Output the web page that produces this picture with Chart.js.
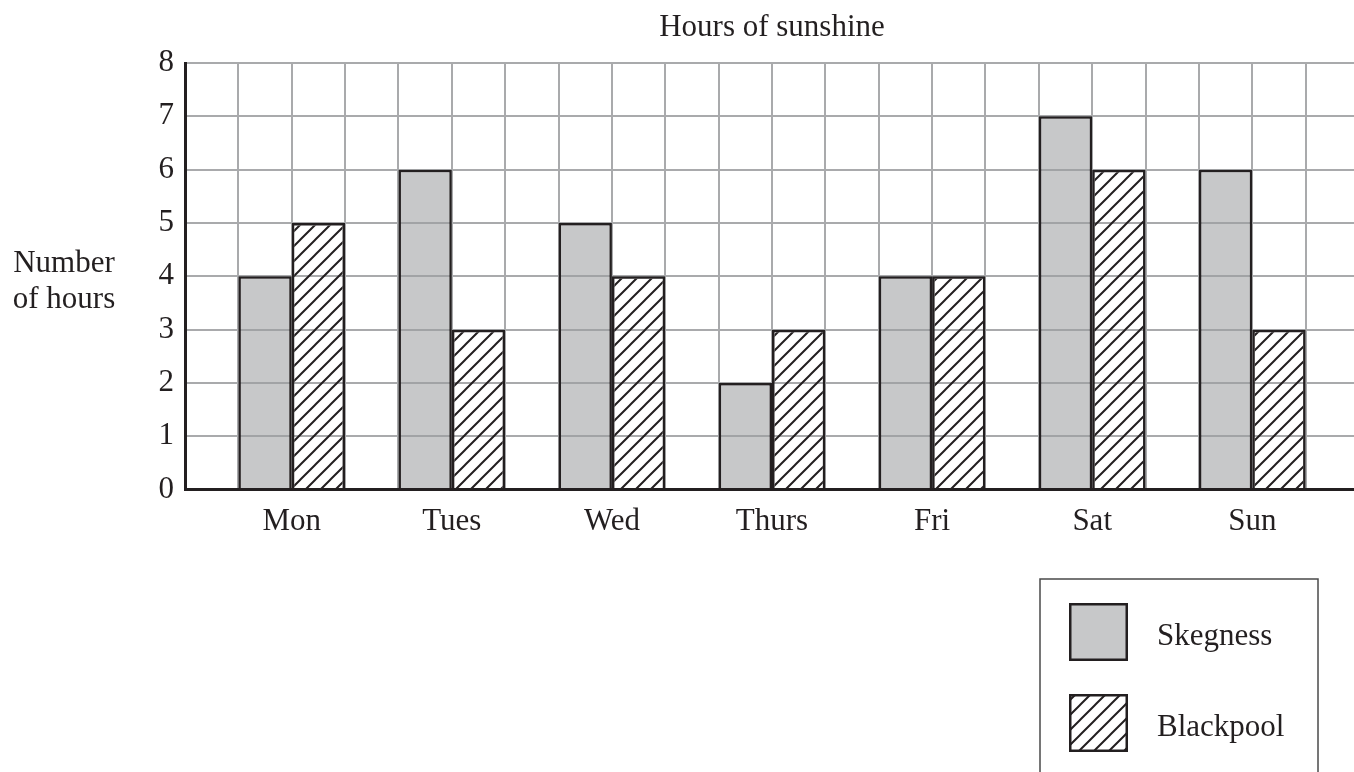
<!DOCTYPE html>
<html><head><meta charset="utf-8">
<script src="https://cdn.jsdelivr.net/npm/chart.js@4"></script>
<style>html,body{margin:0;padding:0;background:#fff;overflow:hidden;}canvas{display:block;}</style>
</head><body>
<canvas id="c" width="1359" height="772"></canvas>
<script>
const days = ['Mon', 'Tues', 'Wed', 'Thurs', 'Fri', 'Sat', 'Sun'];
const skegness = [4, 6, 5, 2, 4, 7, 6];
const blackpool = [5, 3, 4, 3, 4, 6, 3];
const yTicks = [0, 1, 2, 3, 4, 5, 6, 7, 8];
const seriesNames = ['Skegness', 'Blackpool'];
const chartTitle = 'Hours of sunshine';
const yTitleLines = ['Number', 'of hours'];

const FONT_FAMILY = '"Liberation Serif", "Times New Roman", serif';
const FONT_SIZE = 31;
const INK = '#231f20';
const GRID = '#a9aaac';
const CELLS_PER_DAY = 3;

function makeHatch() {
  const s = 15;
  const c = document.createElement('canvas');
  c.width = s; c.height = s;
  const g = c.getContext('2d');
  g.strokeStyle = INK;
  g.lineWidth = 2;
  g.beginPath();
  g.moveTo(-2, 2); g.lineTo(2, -2);
  g.moveTo(0, s); g.lineTo(s, 0);
  g.moveTo(s - 2, s + 2); g.lineTo(s + 2, s - 2);
  g.stroke();
  return g.createPattern(c, 'repeat');
}
const hatch = makeHatch();
const skegFill = 'rgba(156,157,160,0.565)';

const extras = {
  id: 'extras',
  afterDraw(chart) {
    const ctx = chart.ctx;
    const ca = chart.chartArea;
    ctx.save();
    ctx.fillStyle = INK;
    ctx.font = FONT_SIZE + 'px ' + FONT_FAMILY;
    ctx.textBaseline = 'alphabetic';
    ctx.textAlign = 'center';
    ctx.fillText(chartTitle, (ca.left + ca.right) / 2, 36);
    const midY = (ca.top + ca.bottom) / 2;
    ctx.fillText(yTitleLines[0], 64, midY - 4);
    ctx.fillText(yTitleLines[1], 64, midY + 32);

    // legend box
    ctx.strokeStyle = '#4a4a4a';
    ctx.lineWidth = 1.5;
    ctx.strokeRect(1040, 579, 278, 260);
    const ds = chart.data.datasets;
    const rows = [603, 694];
    ds.forEach((d, i) => {
      const y = rows[i];
      ctx.fillStyle = '#ffffff';
      ctx.fillRect(1069, y, 59, 58);
      ctx.fillStyle = d.backgroundColor;
      ctx.fillRect(1069, y, 59, 58);
      ctx.strokeStyle = d.borderColor;
      ctx.lineWidth = 2.5;
      ctx.strokeRect(1069 + 1.25, y + 1.25, 59 - 2.5, 58 - 2.5);
      ctx.fillStyle = INK;
      ctx.textAlign = 'left';
      ctx.fillText(d.label, 1157, y + 29 + 13);
    });
    ctx.restore();
  }
};

const font = { family: FONT_FAMILY, size: FONT_SIZE };

new Chart(document.getElementById('c'), {
  type: 'bar',
  data: {
    datasets: [
      {
        label: seriesNames[0],
        xAxisID: 'x',
        yAxisID: 'y',
        data: days.map((d, i) => ({ x: i, y: skegness[i] })),
        backgroundColor: skegFill,
        borderColor: INK,
        borderWidth: 2.5,
        borderSkipped: 'start',
        categoryPercentage: 2 / 3,
        barPercentage: 1
      },
      {
        label: seriesNames[1],
        xAxisID: 'x',
        yAxisID: 'y',
        data: days.map((d, i) => ({ x: i, y: blackpool[i] })),
        backgroundColor: hatch,
        borderColor: INK,
        borderWidth: 2.5,
        borderSkipped: 'start',
        categoryPercentage: 2 / 3,
        barPercentage: 1
      }
    ]
  },
  options: {
    responsive: false,
    animation: false,
    events: [],
    layout: { padding: { top: 63, left: 0, right: 0, bottom: 232.4 } },
    plugins: { legend: { display: false }, tooltip: { enabled: false }, title: { display: false } },
    scales: {
      x: {
        type: 'linear',
        position: 'bottom',
        offset: false,
        min: -(CELLS_PER_DAY - 1) / CELLS_PER_DAY,
        max: days.length - 1 + (CELLS_PER_DAY - 1) / CELLS_PER_DAY,
        afterBuildTicks: s => { s.ticks = days.map((d, i) => ({ value: i })); },
        ticks: {
          autoSkip: false, maxRotation: 0, minRotation: 0, padding: 14,
          font: font, color: INK,
          callback: (v) => days[Math.round(v)] || ''
        },
        grid: { display: false, drawTicks: false, offset: false },
        border: { display: true, color: INK, width: 3, z: 2 },
        afterFit: s => { s.height = 50; }
      },
      x2: {
        type: 'linear',
        position: 'bottom',
        offset: false,
        min: 0,
        max: days.length * CELLS_PER_DAY + 1,
        afterBuildTicks: s => {
          const n = days.length * CELLS_PER_DAY + 1;
          s.ticks = Array.from({ length: n + 1 }, (_, k) => ({ value: k }));
        },
        ticks: { display: false, autoSkip: false },
        grid: { color: GRID, lineWidth: 2, drawTicks: false, offset: false },
        border: { display: false },
        afterFit: s => { s.height = 0; }
      },
      y: {
        min: 0,
        max: 8,
        afterBuildTicks: s => { s.ticks = yTicks.map(v => ({ value: v })); },
        ticks: { padding: 11, font: font, color: INK, autoSkip: false },
        grid: { color: GRID, lineWidth: 2, drawTicks: false },
        border: { display: true, color: INK, width: 3, z: 2 },
        afterFit: s => { s.width = 185; }
      }
    }
  },
  plugins: [extras]
});
</script>
</body></html>
